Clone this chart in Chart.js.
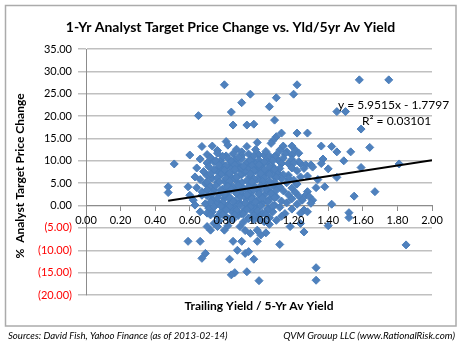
<!DOCTYPE html>
<html><head><meta charset="utf-8">
<script src="https://cdn.jsdelivr.net/npm/chart.js@4"></script>
<style>html,body{margin:0;padding:0;background:#fff}canvas{display:block}</style>
</head><body>
<canvas id="c" width="461" height="345"></canvas>
<script>
// ---- data (x = trailing yield / 5-yr avg yield, y = % analyst target price change) ----
const yieldRatio = [
 0.80,1.22,0.95,1.20,1.10,0.90,1.06,0.65,0.84,1.09,0.85,0.93,0.97,
 1.13,1.10,1.08,1.07,1.22,1.28,0.67,0.73,0.81,0.82,0.99,0.93,
 1.14,1.19,1.21,1.23,1.36,1.42,1.45,1.53,1.64,1.58,1.75,1.45,1.50,1.59,
 1.37,1.49,1.36,1.24,1.27,1.30,1.26,1.59,1.81,1.45,1.38,
 1.28,1.27,1.29,1.31,1.30,1.26,1.67,1.55,1.42,1.52,1.52,1.40,1.26,1.85,
 0.475,0.475,0.59,0.60,0.62,0.63,0.67,0.71,0.73,0.70,
 0.59,0.66,0.69,0.67,0.83,0.85,0.90,0.875,0.92,0.94,0.97,
 0.86,0.84,0.93,1.00,0.99,1.04,1.12,1.33,1.33,1.18,
 0.74,0.76,0.72,0.89,0.92,0.95,0.99,1.01,0.51,0.60,0.63,
 1.00,1.03,1.10,0.95,0.97,1.05,1.11,1.02,1.08,1.17,1.23,
 0.92,1.00,1.07,1.11,1.17,1.24,1.17,0.66,0.72,0.76,0.74,0.70,1.24,1.28,1.24,
 0.76,0.87,0.90,0.98,1.04,1.12,1.16,
 0.70,0.76,0.81,0.85,0.90,0.94,1.06,1.15,1.19,
 0.66,0.72,0.78,0.82,0.86,0.90,1.00,1.14,1.19,
 0.70,0.74,0.79,0.84,0.88,0.93,0.98,1.05,1.13,1.20,
 0.64,0.71,0.77,0.83,0.89,0.94,1.00,1.06,1.12,1.19,1.31,1.40,
 0.68,0.75,0.81,0.86,0.92,0.98,1.04,1.22,
 0.70,0.78,0.84,0.90,0.95,1.01,1.09,1.14,1.28,
 0.66,0.73,0.80,0.86,0.93,0.99,1.06,1.13,1.20,1.34,
 0.69,0.76,0.82,0.88,0.96,1.03,1.09,1.16,1.22,
 0.64,0.72,0.79,0.85,0.91,0.98,1.05,1.12,1.19,1.33,
 0.67,0.74,0.81,0.87,0.94,1.00,1.07,1.14,1.21,
 0.70,0.77,0.83,0.90,0.96,1.03,1.10,1.17,1.23,
 0.73,0.80,0.86,0.93,0.99,1.06,1.13,1.19,1.25,
 0.69,0.76,0.82,0.89,0.95,1.02,1.09,1.16,1.22,
 0.80,0.86,0.92,0.98,1.05,1.12,1.19,
 0.78,0.84,0.90,0.96,1.02,1.08,1.15,
 0.81,0.88,0.94,1.00,1.06,1.13,
 0.77,0.85,0.91,0.97,1.03,1.10,
 0.82,1.06,0.80,
 0.79,0.88,0.97,1.09,
 0.75,0.84,0.95,1.03,1.08,
 0.77,0.81,0.86,0.91,0.96,1.00,
 0.74,0.80,0.86,0.97,1.03,1.09,
 0.72,0.78,0.83,0.89,0.95,1.01,1.06,
 0.76,0.81,0.87,0.97,1.03,1.10,
 0.70,0.77,0.83,0.90,0.96,1.02,1.09,
 0.75,0.82,0.88,0.94,1.01,1.08,
 0.70,0.78,0.84,0.90,0.97,1.04,1.10,
 0.73,0.80,0.87,0.93,1.00,1.07,
 0.76,0.83,0.89,0.96,1.02,1.09,
 0.72,0.79,0.85,0.92,0.98,1.05,
 0.78,0.83,0.89,0.95,1.01,1.08,
 0.81,0.87,0.93,0.99,1.05,
 0.79,0.86,0.91,0.97,1.04,
 0.83,0.94,1.00
];
const targetChange = [
 27.0,27.0,24.9,24.9,24.1,23.0,22.1,20.1,20.9,19.1,18.0,18.0,18.2,
 16.2,15.4,14.5,13.9,16.2,16.2,13.2,13.3,14.3,13.5,14.1,13.2,
 13.3,13.3,12.4,11.7,13.3,13.2,12.0,12.0,13.0,28.1,28.1,21.0,21.0,17.1,
 10.4,10.0,9.4,9.4,9.1,9.1,8.3,8.5,9.3,6.3,4.2,
 3.1,2.3,2.0,1.2,0.5,-1.0,3.1,2.1,0.3,-1.6,-2.7,-4.5,-5.9,-8.8,
 4.2,2.9,4.2,2.3,1.2,0.1,2.3,-0.6,-1.4,-1.7,
 -8.0,-8.0,-10.7,-11.8,-12.0,-8.0,-8.0,-10.0,-10.7,-10.3,-12.0,
 -15.0,-15.5,-14.8,-16.8,-8.0,-6.1,-8.7,-13.9,-16.7,-4.7,
 -4.0,-4.7,-5.5,-4.7,-5.6,-6.2,-5.5,-6.6,9.3,11.3,6.4,
 11.3,11.3,11.3,10.2,9.8,10.2,10.2,9.1,8.7,9.4,9.8,
 8.3,7.9,7.6,7.2,6.8,6.4,6.1,-1.4,-2.1,-2.5,-0.3,-4.7,-1.7,-1.4,-4.0,
 12.3,12.6,12.0,12.5,12.1,12.4,12.0,
 11.4,11.7,11.1,11.6,11.2,11.5,11.1,11.6,11.3,
 10.4,10.7,10.1,10.6,10.2,10.5,10.1,10.6,10.3,
 9.5,9.8,9.2,9.7,9.3,9.6,9.2,9.7,9.4,9.5,
 8.4,8.7,8.1,8.6,8.2,8.5,8.1,8.6,8.3,8.4,8.6,8.2,
 7.6,7.9,7.3,7.8,7.4,7.7,7.3,7.8,
 6.7,7.0,6.4,6.9,6.5,6.8,6.4,6.9,6.6,
 5.8,6.1,5.5,6.0,5.6,5.9,5.5,6.0,5.7,5.8,
 4.9,5.2,4.6,5.1,4.7,5.0,4.6,5.1,4.8,
 4.0,4.3,3.7,4.2,3.8,4.1,3.7,4.2,3.9,4.0,
 3.1,3.4,2.8,3.3,2.9,3.2,2.8,3.3,3.0,
 2.2,2.5,1.9,2.4,2.0,2.3,1.9,2.4,2.1,
 1.3,1.6,1.0,1.5,1.1,1.4,1.0,1.5,1.2,
 0.4,0.7,0.1,0.6,0.2,0.5,0.1,0.6,0.3,
 -0.5,-0.2,-0.8,-0.3,-0.7,-0.4,-0.8,
 -1.5,-1.2,-1.8,-1.3,-1.7,-1.4,-1.8,
 -2.5,-2.2,-2.8,-2.3,-2.7,-2.4,
 -3.4,-3.1,-3.7,-3.2,-3.6,-3.3,
 -4.5,-4.2,-5.5,
 11.0,10.8,11.1,10.9,
 10.0,9.9,10.1,9.8,10.0,
 9.0,8.9,9.1,8.8,9.0,9.1,
 8.0,7.9,8.1,7.8,8.0,8.1,
 7.1,7.0,7.2,6.9,7.1,7.2,7.0,
 6.2,6.1,6.3,6.0,6.2,6.3,
 5.3,5.2,5.4,5.1,5.3,5.4,5.2,
 4.4,4.3,4.5,4.2,4.4,4.5,
 3.5,3.4,3.6,3.3,3.5,3.6,3.4,
 2.6,2.5,2.7,2.4,2.6,2.7,
 1.7,1.6,1.8,1.5,1.7,1.8,
 0.8,0.7,0.9,0.6,0.8,0.9,
 -0.1,-0.2,0.0,-0.3,-0.1,0.0,
 -1.0,-1.1,-0.9,-1.2,-1.0,
 -2.0,-2.1,-1.9,-2.2,-2.0,
 -3.0,-2.9,-3.1
];
// linear trendline shown on the chart
const trendSlope = 5.9515;
const trendIntercept = -1.7797;
const trendRange = [0.475, 2.0];
// axis settings / texts
const yRange = [-20, 35];
const xRange = [0, 2];
const titleText = '1-Yr Analyst Target Price Change vs. Yld/5yr Av Yield';
const xTitle = 'Trailing Yield / 5-Yr Av Yield';
const yTitle = '%  Analyst Target Price Change';
const eqText = ['y = 5.9515x - 1.7797', 'R\u00B2 = 0.03101'];
const footer = ['Sources: David Fish, Yahoo Finance (as of 2013-02-14)', 'QVM Grouup LLC (www.RationalRisk.com)'];

const FONT = 'Lato, "Open Sans", "Liberation Sans", sans-serif';

function fitText(ctx, text, style, target, base) {
  ctx.font = style + ' ' + base + 'px ' + FONT;
  const w = ctx.measureText(text).width;
  const size = Math.min(base, base * target / w);
  ctx.font = style + ' ' + size.toFixed(2) + 'px ' + FONT;
}

const decor = {
  id: 'decor',
  beforeDraw(chart) {
    const ctx = chart.ctx;
    ctx.save();
    ctx.fillStyle = '#fff';
    ctx.fillRect(0, 0, chart.width, chart.height);
    ctx.strokeStyle = '#ABABAB';
    ctx.lineWidth = 1.5;
    ctx.strokeRect(5.5, 5.5, 450.5, 320.5);
    ctx.restore();
  },
  afterDraw(chart) {
    const ctx = chart.ctx;
    ctx.save();
    ctx.fillStyle = '#000';
    ctx.textBaseline = 'middle';
    ctx.textAlign = 'center';
    ctx.font = 'bold 14px ' + FONT;
    ctx.fillText(titleText, 230.5, 27);
    ctx.font = 'bold 12px ' + FONT;
    ctx.fillText(xTitle, 259, 306);
    ctx.save();
    ctx.translate(20, 176);
    ctx.rotate(-Math.PI / 2);
    ctx.fillText(yTitle, 0, 0);
    ctx.restore();
    ctx.textAlign = 'left';
    ctx.font = '12px ' + FONT;
    ctx.fillText(eqText[0], 338, 105);
    ctx.fillText(eqText[1], 362, 121);
    fitText(ctx, footer[0], 'italic', 220, 11);
    ctx.fillText(footer[0], 8, 336);
    ctx.textAlign = 'right';
    fitText(ctx, footer[1], 'italic', 172, 11);
    ctx.fillText(footer[1], 455, 336);
    ctx.restore();
  }
};

new Chart(document.getElementById('c'), {
  type: 'scatter',
  data: {
    datasets: [
      {
        data: trendRange.map(x => ({x: x, y: trendSlope * x + trendIntercept})),
        showLine: true,
        borderColor: '#000',
        borderWidth: 2,
        pointRadius: 0,
        fill: false,
        order: 0
      },
      {
        data: yieldRatio.map((x, i) => ({x: x, y: targetChange[i]})),
        pointStyle: 'rectRot',
        pointRadius: 4,
        backgroundColor: '#4F81BD',
        borderColor: '#4A7EBB',
        borderWidth: 1,
        order: 1
      }
    ]
  },
  options: {
    responsive: false,
    animation: false,
    devicePixelRatio: 1,
    events: [],
    layout: { padding: { top: 49, bottom: 50, left: 0, right: 29 } },
    plugins: { legend: { display: false }, tooltip: { enabled: false }, title: { display: false } },
    scales: {
      x: {
        type: 'linear',
        min: xRange[0], max: xRange[1],
        position: { y: 0 },
        ticks: {
          z: 1,
          stepSize: 0.2, autoSkip: false, maxRotation: 0, padding: 3,
          color: '#000', font: { family: FONT, size: 11 },
          callback: v => Number(v).toFixed(2)
        },
        grid: { drawOnChartArea: false, drawTicks: true, tickLength: 5, color: '#8C8C8C' },
        border: { display: true, color: '#8C8C8C', width: 1 }
      },
      y: {
        type: 'linear',
        min: yRange[0], max: yRange[1],
        ticks: {
          stepSize: 5, padding: 6,
          color: c => (c.tick && c.tick.value < 0) ? '#FF0000' : '#000',
          font: { family: FONT, size: 11 },
          callback: v => v < 0 ? '(' + Math.abs(v).toFixed(2) + ')' : Number(v).toFixed(2)
        },
        grid: { color: '#C0C0C0', lineWidth: 1.5, tickLength: 8 },
        border: { display: true, color: '#8C8C8C', width: 1 },
        afterFit: s => { s.width = 86; }
      }
    }
  },
  plugins: [decor]
});
</script>
</body></html>
